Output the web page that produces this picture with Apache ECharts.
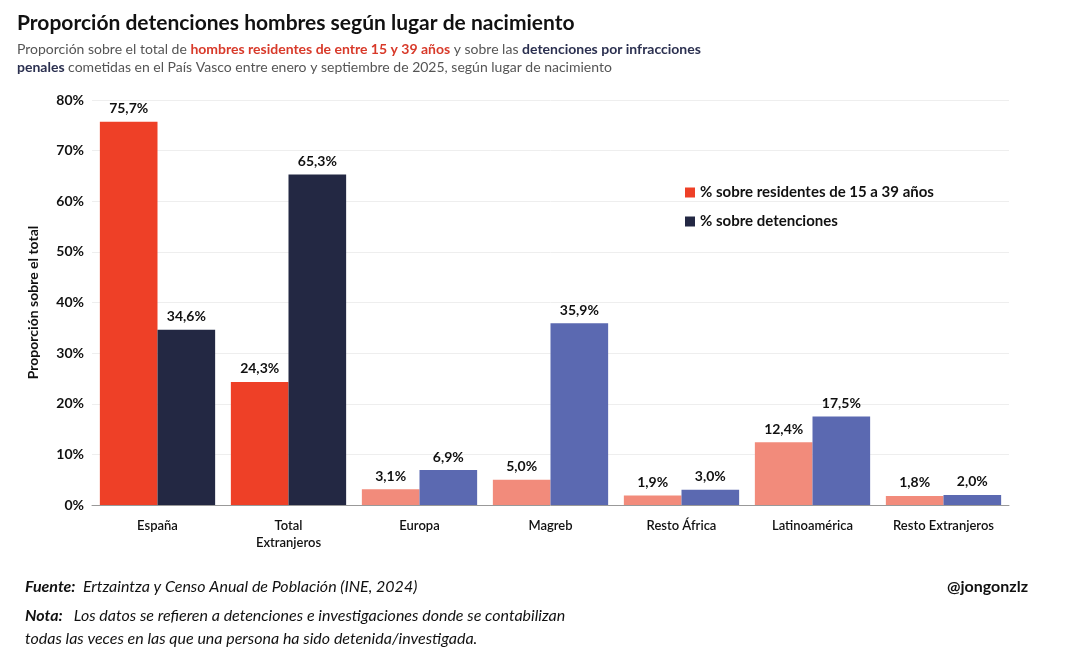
<!DOCTYPE html>
<html><head><meta charset="utf-8">
<script src="https://cdn.jsdelivr.net/npm/echarts@6/dist/echarts.min.js"></script>
<style>html,body{margin:0;background:#fff}#c{width:1071px;height:661px}</style>
</head><body><div id="c"></div>
<script>
const categories=['España','Total\nExtranjeros','Europa','Magreb','Resto África','Latinoamérica','Resto Extranjeros'];
const residentes=[75.7,24.3,3.1,5.0,1.9,12.4,1.8];
const detenciones=[34.6,65.3,6.9,35.9,3.0,17.5,2.0];
const yTicks=[0,10,20,30,40,50,60,70,80];
const c1=['#EE4027','#EE4027','#F28B7B','#F28B7B','#F28B7B','#F28B7B','#F28B7B'];
const c2=['#232843','#232843','#5B69B1','#5B69B1','#5B69B1','#5B69B1','#5B69B1'];
const chart=echarts.init(document.getElementById('c'));
const lab={show:true,position:'top',fontFamily:'Lato',fontWeight:'bold',fontSize:14,color:'#111',distance:6,formatter:p=>p.value.toFixed(1).replace('.',',')+'%'};
chart.setOption({
textStyle:{fontFamily:'Lato'},
title:[{text:'Proporción detenciones hombres según lugar de nacimiento',left:12,top:8,textStyle:{fontFamily:'Lato',fontSize:21,fontWeight:'bold',color:'#111'}},
{text:'{n|Proporción sobre el total de }{r|hombres residentes de entre 15 y 39 años}{n| y sobre las }{b|detenciones por infracciones}\n{b|penales}{n| cometidas en el País Vasco entre enero y septiembre de 2025, según lugar de nacimiento}',left:12,top:35,textStyle:{fontWeight:'normal',rich:{n:{fontFamily:'Lato',fontSize:14,color:'#555',fontWeight:'normal',lineHeight:18},r:{fontFamily:'Lato',fontSize:14,color:'#D83A2A',fontWeight:'bold',lineHeight:18},b:{fontFamily:'Lato',fontSize:14,color:'#2B3050',fontWeight:'bold',lineHeight:18}}}},
{text:'{b|Fuente:}{n|  Ertzaintza y Censo Anual de Población (INE, 2024)}',left:20,top:574,textStyle:{fontWeight:'normal',rich:{b:{fontFamily:'Lato',fontSize:16,fontStyle:'italic',fontWeight:'bold',color:'#111'},n:{fontFamily:'Lato',fontSize:16,fontStyle:'italic',fontWeight:'normal',color:'#111'}}}},
{text:'{b|Nota:}{n|   Los datos se refieren a detenciones e investigaciones donde se contabilizan}\n{n|todas las veces en las que una persona ha sido detenida/investigada.}',left:20,top:599,textStyle:{fontWeight:'normal',rich:{b:{fontFamily:'Lato',fontSize:16,fontStyle:'italic',fontWeight:'bold',color:'#111',lineHeight:23},n:{fontFamily:'Lato',fontSize:16,fontStyle:'italic',fontWeight:'normal',color:'#111',lineHeight:23}}}},
{text:'@jongonzlz',right:38,top:574,textStyle:{fontFamily:'Lato',fontSize:16,fontWeight:'bold',color:'#111'}}],
legend:{orient:'vertical',left:680,top:180,itemWidth:10,itemHeight:10,itemGap:14,icon:'rect',textStyle:{fontFamily:'Lato',fontSize:15,fontWeight:'bold',color:'#111'},data:[{name:'% sobre residentes de 15 a 39 años',itemStyle:{color:'#EE4027'}},{name:'% sobre detenciones',itemStyle:{color:'#232843'}}]},
grid:{left:92,right:62,top:100,bottom:156},
xAxis:{type:'category',data:categories,axisTick:{show:false},axisLine:{lineStyle:{color:'#999'}},axisLabel:{interval:0,hideOverlap:false,fontFamily:'Lato',fontSize:13,fontWeight:600,color:'#111',lineHeight:17,margin:12}},
yAxis:{type:'value',min:0,max:80,interval:10,name:'Proporción sobre el total',nameLocation:'middle',nameGap:52,nameTextStyle:{fontFamily:'Lato',fontSize:14,fontWeight:'bold',color:'#111'},axisLabel:{fontFamily:'Lato',fontSize:14,fontWeight:'bold',color:'#111',formatter:v=>v+'%'},splitLine:{lineStyle:{color:'#eee'}}},
series:[{name:'% sobre residentes de 15 a 39 años',type:'bar',barGap:'0%',barCategoryGap:'12%',data:residentes.map((v,i)=>({value:v,itemStyle:{color:c1[i]}})),label:lab},
{name:'% sobre detenciones',type:'bar',data:detenciones.map((v,i)=>({value:v,itemStyle:{color:c2[i]}})),label:lab}]
});
</script></body></html>
